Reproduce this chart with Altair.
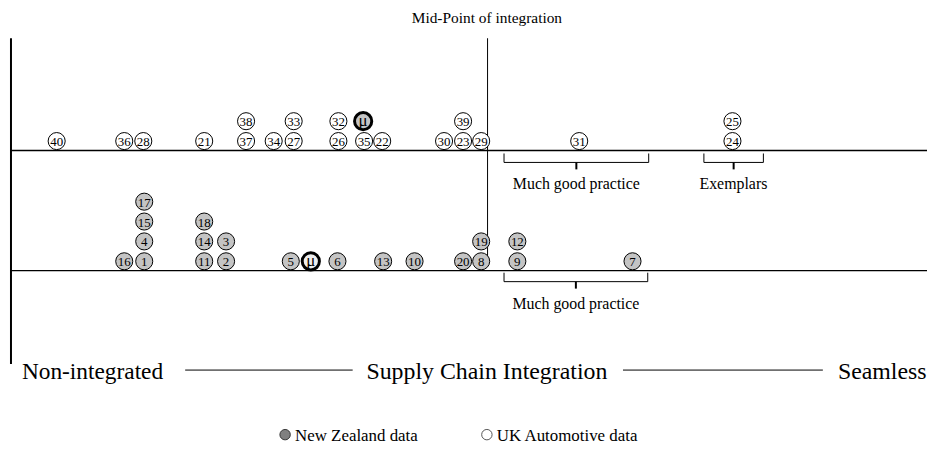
import altair as alt
import pandas as pd

# ---------------- data ----------------
# UK automotive data (upper band): case label, integration score, stack level
uk_labels = ["40", "36", "28", "21", "37", "38", "34", "27", "33", "26", "32",
             "35", "22", "30", "23", "39", "29", "31", "24", "25"]
uk_scores = [4.8, 11.9, 13.9, 20.3, 24.7, 24.7, 27.6, 29.7, 29.7, 34.4, 34.4,
             37.1, 39.0, 45.5, 47.5, 47.5, 49.4, 59.7, 75.8, 75.8]
uk_levels = [0, 0, 0, 0, 0, 1, 0, 0, 1, 0, 1,
             0, 0, 0, 0, 1, 0, 0, 0, 1]
uk_mean_score = 37.0
uk_mean_level = 1

# New Zealand data (lower band)
nz_labels = ["16", "1", "4", "15", "17", "11", "14", "18", "2", "3", "5",
             "6", "13", "10", "20", "8", "19", "9", "12", "7"]
nz_scores = [11.9, 14.0, 14.0, 14.0, 14.0, 20.3, 20.3, 20.3, 22.6, 22.6, 29.4,
             34.3, 39.1, 42.4, 47.5, 49.4, 49.4, 53.2, 53.2, 65.3]
nz_levels = [0, 0, 1, 2, 3, 0, 1, 2, 0, 1, 0,
             0, 0, 0, 0, 0, 1, 0, 1, 0]
nz_mean_score = 31.5
nz_mean_level = 0

MID_POINT = 50.0
SCALE_MAX = 96.24

# ---------------- layout helpers ----------------
FONT = "Liberation Serif, Times New Roman, serif"
W, H = 925, 440
X = alt.Scale(domain=[-0.313, SCALE_MAX])
Y = alt.Scale(domain=[8, 8 + H], reverse=True)

TOP_BASE, BOT_BASE = 150, 271
STEP = 20
R_OFF = 9.5


def band(labels, scores, levels, base):
    return pd.DataFrame({
        "label": labels,
        "score": scores,
        "yy": [base - R_OFF - l * STEP for l in levels],
    })


uk = band(uk_labels, uk_scores, uk_levels, TOP_BASE)
nz = band(nz_labels, nz_scores, nz_levels, BOT_BASE)
uk_mu = band(["μ"], [uk_mean_score], [uk_mean_level], TOP_BASE)
nz_mu = band(["μ"], [nz_mean_score], [nz_mean_level], BOT_BASE)

xe = lambda f="score": alt.X(f"{f}:Q", scale=X, axis=None)
ye = lambda f="yy": alt.Y(f"{f}:Q", scale=Y, axis=None)

# ---------------- lines ----------------
rules = pd.DataFrame([
    # left axis
    dict(x=0, x2=0, y=37, y2=365, w=2),
    # mid point line
    dict(x=MID_POINT + 0.07, x2=MID_POINT + 0.07, y=37, y2=262, w=1),
    # baselines
    dict(x=0, x2=SCALE_MAX, y=TOP_BASE, y2=TOP_BASE, w=1.3),
    dict(x=0, x2=SCALE_MAX, y=BOT_BASE, y2=BOT_BASE, w=1.3),
    # bottom axis connector lines
    dict(x=18.3, x2=35.9, y=371, y2=371, w=1),
    dict(x=64.3, x2=85.3, y=371, y2=371, w=1),
])


def brace(x0, x1, ytop):
    xc = (x0 + x1) / 2
    return [
        dict(x=x0, x2=x0, y=ytop, y2=ytop + 9, w=1),
        dict(x=x1, x2=x1, y=ytop, y2=ytop + 9, w=1),
        dict(x=x0, x2=x1, y=ytop + 9, y2=ytop + 9, w=1),
        dict(x=xc, x2=xc, y=ytop + 9, y2=ytop + 16, w=2),
    ]


braces = pd.DataFrame(
    brace(51.8, 67.0, 153) + brace(72.8, 79.05, 153) + brace(51.8, 66.9, 273)
)

rule_layer = alt.Chart(pd.concat([rules, braces])).mark_rule(color="black").encode(
    x=xe("x"), x2="x2:Q", y=ye("y"), y2="y2:Q",
    strokeWidth=alt.StrokeWidth("w:Q", scale=None),
)

# ---------------- circles ----------------
CSIZE = 295
uk_pts = alt.Chart(uk).mark_point(shape="circle", filled=True, fill="white",
                                  stroke="black", strokeWidth=1, size=CSIZE, opacity=1).encode(x=xe(), y=ye())
nz_pts = alt.Chart(nz).mark_point(shape="circle", filled=True, fill="#c4c4c4",
                                  stroke="black", strokeWidth=1, size=CSIZE, opacity=1).encode(x=xe(), y=ye())
uk_mu_pt = alt.Chart(uk_mu).mark_point(shape="circle", filled=True, fill="#c4c4c4",
                                       stroke="black", strokeWidth=3, size=300, opacity=1).encode(x=xe(), y=ye())
nz_mu_pt = alt.Chart(nz_mu).mark_point(shape="circle", filled=True, fill="#eeeeee",
                                       stroke="black", strokeWidth=3, size=300, opacity=1).encode(x=xe(), y=ye())

lbl = dict(font=FONT, fontSize=13, color="black", align="center", baseline="middle", dy=1)
uk_txt = alt.Chart(uk).mark_text(**lbl).encode(x=xe(), y=ye(), text="label:N")
nz_txt = alt.Chart(nz).mark_text(**lbl).encode(x=xe(), y=ye(), text="label:N")
mu_txt = alt.Chart(pd.concat([uk_mu, nz_mu])).mark_text(
    font=FONT, fontSize=17, color="black", align="center", baseline="middle", dy=0
).encode(x=xe(), y=ye(), text="label:N")

# ---------------- annotations ----------------
notes = pd.DataFrame([
    dict(t="Mid-Point of integration", x=MID_POINT, y=17, s=15.5),
    dict(t="Much good practice", x=59.4, y=184, s=16),
    dict(t="Exemplars", x=75.9, y=184, s=16),
    dict(t="Much good practice", x=59.35, y=305, s=16),
    dict(t="Supply Chain Integration", x=MID_POINT, y=373, s=24),
])
note_layer = alt.Chart(notes).mark_text(font=FONT, color="black", baseline="middle").encode(
    x=xe("x"), y=ye("y"), text="t:N", size=alt.Size("s:Q", scale=None),
)
left_txt = alt.Chart(pd.DataFrame([dict(t="Non-integrated", x=1.15, y=373)])).mark_text(
    font=FONT, fontSize=23.5, color="black", align="left", baseline="middle"
).encode(x=xe("x"), y=ye("y"), text="t:N")
right_txt = alt.Chart(pd.DataFrame([dict(t="Seamless", x=96.2, y=373)])).mark_text(
    font=FONT, fontSize=24, color="black", align="right", baseline="middle"
).encode(x=xe("x"), y=ye("y"), text="t:N")

# ---------------- legend ----------------
leg = pd.DataFrame([
    dict(t="New Zealand  data", x=28.8, y=436, fill="#808080", stroke="#333333"),
    dict(t="UK Automotive data", x=50.0, y=436, fill="white", stroke="#555555"),
])
leg_pts = alt.Chart(leg).mark_point(shape="circle", filled=True, size=110, strokeWidth=1, opacity=1).encode(
    x=xe("x"), y=ye("y"),
    fill=alt.Fill("fill:N", scale=None), stroke=alt.Stroke("stroke:N", scale=None),
)
leg_txt = alt.Chart(leg).mark_text(font=FONT, fontSize=17, color="black", align="left",
                                   baseline="middle", dx=10, dy=1).encode(
    x=xe("x"), y=ye("y"), text="t:N")

chart = alt.layer(
    rule_layer, uk_pts, nz_pts, uk_mu_pt, nz_mu_pt, uk_txt, nz_txt, mu_txt,
    note_layer, left_txt, right_txt, leg_pts, leg_txt,
).properties(
    width=W, height=H, padding=0, autosize=alt.AutoSizeParams(type="none"),
).configure_view(stroke=None)

chart.save("out.html", embed_options={"renderer": "svg", "actions": False})
